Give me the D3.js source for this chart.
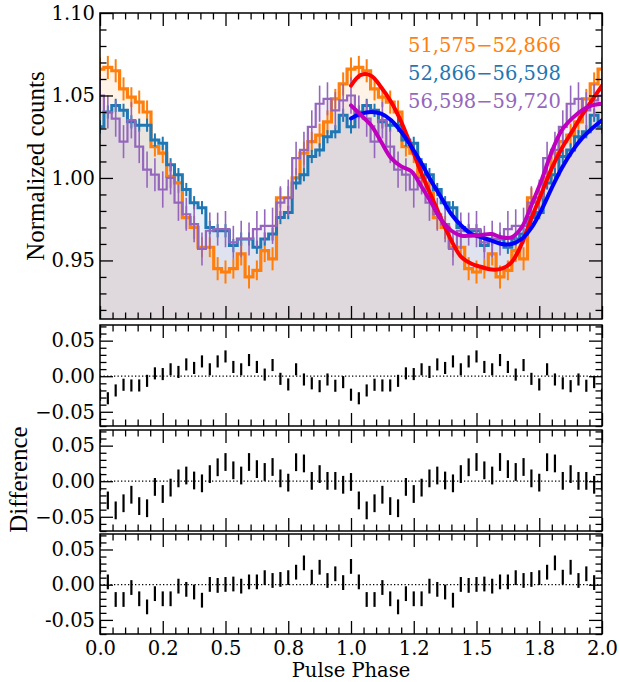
<!DOCTYPE html>
<html><head><meta charset="utf-8">
<script src="https://cdn.jsdelivr.net/npm/d3@7"></script>
<style>
body{margin:0;background:#fff;}
svg{display:block;}
text{font-family:"DejaVu Serif";fill:#000;}
</style></head>
<body><svg id="c" width="620" height="682"></svg>
<script>
// ---- data (32 phase bins per cycle, shown over two cycles) ----
const nBins = 32;
const orangeVals = [1.066,1.067,1.065,1.054,1.049,1.046,1.040,1.019,1.015,1.001,0.997,0.976,0.970,0.958,0.958,0.945,
                    0.943,0.945,0.954,0.940,0.944,0.956,0.951,0.988,0.988,1.000,1.015,1.022,1.026,1.034,1.048,1.057];
const orangeErr  = [0.007,0.007,0.007,0.007,0.006,0.007,0.007,0.006,0.006,0.007,0.006,0.007,0.007,0.006,0.006,0.007,
                    0.007,0.006,0.007,0.007,0.006,0.007,0.007,0.006,0.007,0.006,0.007,0.006,0.007,0.007,0.006,0.007];
const blueVals   = [1.031,1.040,1.044,1.041,1.034,1.032,1.032,1.023,1.021,1.008,1.002,0.993,0.985,0.982,0.970,0.968,
                    0.968,0.959,0.963,0.963,0.958,0.963,0.966,0.976,0.979,0.997,1.002,1.013,1.017,1.025,1.028,1.038];
const blueErr    = [0.004,0.004,0.004,0.004,0.004,0.004,0.004,0.004,0.004,0.004,0.004,0.004,0.004,0.004,0.004,0.004,
                    0.004,0.004,0.004,0.004,0.004,0.004,0.004,0.004,0.004,0.004,0.004,0.004,0.004,0.004,0.004,0.004];
const purpleVals = [1.050,1.040,1.036,1.022,1.035,1.019,1.005,1.002,0.993,1.000,0.985,0.978,0.972,0.957,0.968,0.969,
                    0.969,0.961,0.963,0.963,0.969,0.971,0.971,0.985,0.988,1.012,1.017,1.031,1.045,1.048,1.041,1.047];
const purpleErr  = [0.011,0.010,0.011,0.010,0.011,0.010,0.011,0.010,0.011,0.010,0.011,0.010,0.011,0.010,0.011,0.010,
                    0.011,0.010,0.011,0.010,0.011,0.010,0.011,0.010,0.011,0.010,0.011,0.010,0.011,0.010,0.011,0.010];

// fitted models, phase 1-2
const fitPhase   = [1.00,1.04,1.08,1.12,1.16,1.20,1.24,1.28,1.32,1.36,1.40,1.44,1.48,1.52,1.56,1.60,1.64,1.68,1.72,1.76,1.80,1.84,1.88,1.92,1.96,2.00];
const fitRed     = [1.056,1.0625,1.062,1.055,1.046,1.034,1.019,1.003,0.989,0.975,0.962,0.952,0.948,0.946,0.9445,0.945,0.949,0.960,0.976,0.991,1.006,1.018,1.028,1.038,1.047,1.056];
const fitBlue    = [1.036,1.039,1.040,1.039,1.035,1.028,1.019,1.009,0.998,0.988,0.978,0.971,0.966,0.964,0.962,0.960,0.960,0.963,0.970,0.981,0.994,1.006,1.016,1.024,1.030,1.035];
const fitMagenta = [1.044,1.038,1.032,1.022,1.012,1.007,1.004,0.995,0.985,0.9745,0.968,0.965,0.965,0.9655,0.966,0.964,0.964,0.970,0.984,0.999,1.016,1.029,1.036,1.041,1.044,1.045];

// residual panels
const diff1 = [-0.026,-0.031,-0.020,-0.012,-0.013,-0.013,-0.0065,0.004,0.003,0.0097,0.006,0.0166,0.0116,0.0208,0.0097,0.0208,
               0.0278,0.013,0.0097,0.0227,0.013,0.0023,0.0157,-0.0037,-0.0116,0.0097,-0.0046,-0.010,-0.014,-0.0046,-0.0134,-0.0083];
const diff1Err = 0.0085;
const diff2 = [-0.001,-0.027,-0.041,-0.031,-0.019,-0.035,-0.038,-0.008,-0.018,-0.009,0.004,0.008,0.001,-0.003,0.010,0.0196,
               0.027,0.0153,0.008,0.027,0.017,0.013,0.020,0.004,-0.002,0.0267,0.025,0.0005,0.010,0.0005,0.0005,-0.005];
const diff2Err = 0.0125;
const diff3 = [0.026,0.004,-0.021,-0.021,-0.004,-0.020,-0.0315,-0.0127,-0.020,-0.020,-0.002,-0.0066,-0.0104,-0.022,0.0004,-0.001,
               0.0004,0.001,-0.002,0.004,0.004,0.010,0.006,0.0075,0.010,0.0178,0.031,0.0107,0.0248,0.006,0.0155,0.003];
const diff3Err = 0.0105;

const legendLabels = ["51,575\u221252,866","52,866\u221256,598","56,598\u221259,720"];
const xTicks = [0,0.25,0.5,0.75,1.0,1.25,1.5,1.75,2.0];
const xTickLabels = ["0.0","0.2","0.5","0.8","1.0","1.2","1.5","1.8","2.0"];
const topYTicks = [0.95,1.00,1.05,1.10];
const topYLabels = ["0.95","1.00","1.05","1.10"];
const diffYTicks = [-0.05,0,0.05];
const diffYLabels = [["\u22120.05","0.00","0.05"],["\u22120.05","0.00","0.05"],["-0.05","0.00","0.05"]];

// ---- layout ----
const C = {orange:"#ff7f0e", blue:"#1f77b4", purple:"#9467bd", red:"#ff0000", fblue:"#0000ff", magenta:"#bf00bf"};
const svg = d3.select("#c");
const X0 = 100, X1 = 602;
const x = d3.scaleLinear().domain([0,2]).range([X0,X1]);
const topP = {y0:13, y1:319};
const yTop = d3.scaleLinear().domain([0.9145,1.10]).range([topP.y1, topP.y0]);
const diffPanels = [{y0:325,y1:426},{y0:430,y1:531},{y0:534,y1:634}];
const xMinor = d3.range(0,2.0001,0.05).filter(v=>Math.abs(v*4-Math.round(v*4))>1e-6);
const topMinor = d3.range(0.92,1.1001,0.01).filter(v=>Math.abs(v*20-Math.round(v*20))>1e-6);
const diffMinor = d3.range(-0.07,0.0701,0.01).filter(v=>Math.abs(v*20-Math.round(v*20))>1e-6);

const defs = svg.append("defs");
function clip(id,p){ defs.append("clipPath").attr("id",id).append("rect").attr("x",X0).attr("y",p.y0).attr("width",X1-X0).attr("height",p.y1-p.y0); }
clip("cTop",topP); diffPanels.forEach((p,i)=>clip("cD"+i,p));

function cyc(vals, errs){
  const out=[];
  for(let k=-1;k<=2*nBins+1;k++){ const j=((k%nBins)+nBins)%nBins; out.push({p:k/nBins, v:vals[j], e: errs? (Array.isArray(errs)?errs[j]:errs):0}); }
  return out;
}

// ---- top panel ----
const gTop = svg.append("g").attr("clip-path","url(#cTop)");
const series = [
  {vals:orangeVals, errs:orangeErr, col:C.orange, lw:3.2, ew:2},
  {vals:blueVals, errs:blueErr, col:C.blue, lw:3, ew:2},
  {vals:purpleVals, errs:purpleErr, col:C.purple, lw:2.2, ew:1.6}
];
const area = d3.area().curve(d3.curveStep).x(d=>x(d.p)).y0(yTop(0.9145)).y1(d=>yTop(d.v));
series.forEach(s=>{
  gTop.append("path").datum(cyc(s.vals)).attr("d",area).attr("fill",s.col).attr("fill-opacity",0.1);
});
const stepLine = d3.line().curve(d3.curveStep).x(d=>x(d.p)).y(d=>yTop(d.v));
series.forEach(s=>{
  const d = cyc(s.vals, s.errs);
  gTop.append("path").datum(d).attr("d",stepLine).attr("fill","none").attr("stroke",s.col).attr("stroke-width",s.lw);
  gTop.selectAll(null).data(d).enter().append("line")
    .attr("x1",q=>x(q.p)).attr("x2",q=>x(q.p)).attr("y1",q=>yTop(q.v-q.e)).attr("y2",q=>yTop(q.v+q.e))
    .attr("stroke",s.col).attr("stroke-width",s.ew);
});
const fitLine = d3.line().curve(d3.curveCatmullRom).x(d=>x(d[0])).y(d=>yTop(d[1]));
[[fitRed,C.red],[fitBlue,C.fblue],[fitMagenta,C.magenta]].forEach(([f,col])=>{
  gTop.append("path").datum(fitPhase.map((p,i)=>[p,f[i]])).attr("d",fitLine)
    .attr("fill","none").attr("stroke",col).attr("stroke-width",4).attr("stroke-linecap","round");
});

// legend
const lg = svg.append("g");
[C.orange,C.blue,C.purple].forEach((col,i)=>{
  lg.append("text").attr("x",408).attr("y",51.7+i*28).style("font-size","19.5px").style("fill",col).text(legendLabels[i]);
});

// ---- residual panels ----
const diffs = [[diff1,diff1Err],[diff2,diff2Err],[diff3,diff3Err]];
const yD = diffPanels.map(p=>d3.scaleLinear().domain([-0.07,0.072]).range([p.y1,p.y0]));
diffs.forEach(([vals,err],i)=>{
  const g = svg.append("g").attr("clip-path",`url(#cD${i})`);
  const y = yD[i];
  g.append("line").attr("x1",X0).attr("x2",X1).attr("y1",y(0)).attr("y2",y(0))
    .attr("stroke","#000").attr("stroke-width",1.2).attr("stroke-dasharray","1.3,2.2");
  const d = cyc(vals, err);
  g.selectAll(null).data(d).enter().append("line")
    .attr("x1",q=>x(q.p)).attr("x2",q=>x(q.p)).attr("y1",q=>y(q.v-q.e)).attr("y2",q=>y(q.v+q.e))
    .attr("stroke","#000").attr("stroke-width",2.2);
});

// ---- axes (inward ticks on all sides) ----
function frame(p, y, yMaj, yMin, yLabels, xLabels){
  const g = svg.append("g");
  const add = (axis, tx, ty) => {
    const a = g.append("g").attr("transform",`translate(${tx},${ty})`).call(axis);
    a.select(".domain").remove();
    a.selectAll(".tick line").attr("stroke","#000").attr("stroke-width",1.3);
    a.selectAll("text").style("font-family","DejaVu Serif").style("font-size","19.5px").attr("fill","#000");
    return a;
  };
  add(d3.axisBottom(x).tickValues(xTicks).tickSize(-13).tickPadding(7).tickFormat((d,i)=>xLabels?xLabels[i]:""),0,p.y1);
  add(d3.axisBottom(x).tickValues(xMinor).tickSize(-6.5).tickFormat(""),0,p.y1);
  add(d3.axisTop(x).tickValues(xTicks).tickSize(-13).tickFormat(""),0,p.y0);
  add(d3.axisTop(x).tickValues(xMinor).tickSize(-6.5).tickFormat(""),0,p.y0);
  add(d3.axisLeft(y).tickValues(yMaj).tickSize(-13).tickPadding(5).tickFormat((d,i)=>yLabels[i]),X0,0);
  add(d3.axisLeft(y).tickValues(yMin).tickSize(-6.5).tickFormat(""),X0,0);
  add(d3.axisRight(y).tickValues(yMaj).tickSize(-13).tickFormat(""),X1,0);
  add(d3.axisRight(y).tickValues(yMin).tickSize(-6.5).tickFormat(""),X1,0);
  g.append("rect").attr("x",X0).attr("y",p.y0).attr("width",X1-X0).attr("height",p.y1-p.y0)
    .attr("fill","none").attr("stroke","#000").attr("stroke-width",1.5);
}
frame(topP, yTop, topYTicks, topMinor, topYLabels, null);
diffPanels.forEach((p,i)=>frame(p, yD[i], diffYTicks, diffMinor, diffYLabels[i], i===2?xTickLabels:null));

// titles
svg.append("text").attr("transform",`translate(44,${(topP.y0+topP.y1)/2}) rotate(-90)`).attr("text-anchor","middle")
  .style("font-family","'Liberation Serif'").style("font-size","25px").text("Normalized counts");
svg.append("text").attr("transform",`translate(27,${(diffPanels[0].y0+diffPanels[2].y1)/2}) rotate(-90)`).attr("text-anchor","middle")
  .style("font-family","'Liberation Serif'").style("font-size","25px").text("Difference");
svg.append("text").attr("x",(X0+X1)/2).attr("y",677).attr("text-anchor","middle").style("font-size","19.5px").text("Pulse Phase");
</script></body></html>
